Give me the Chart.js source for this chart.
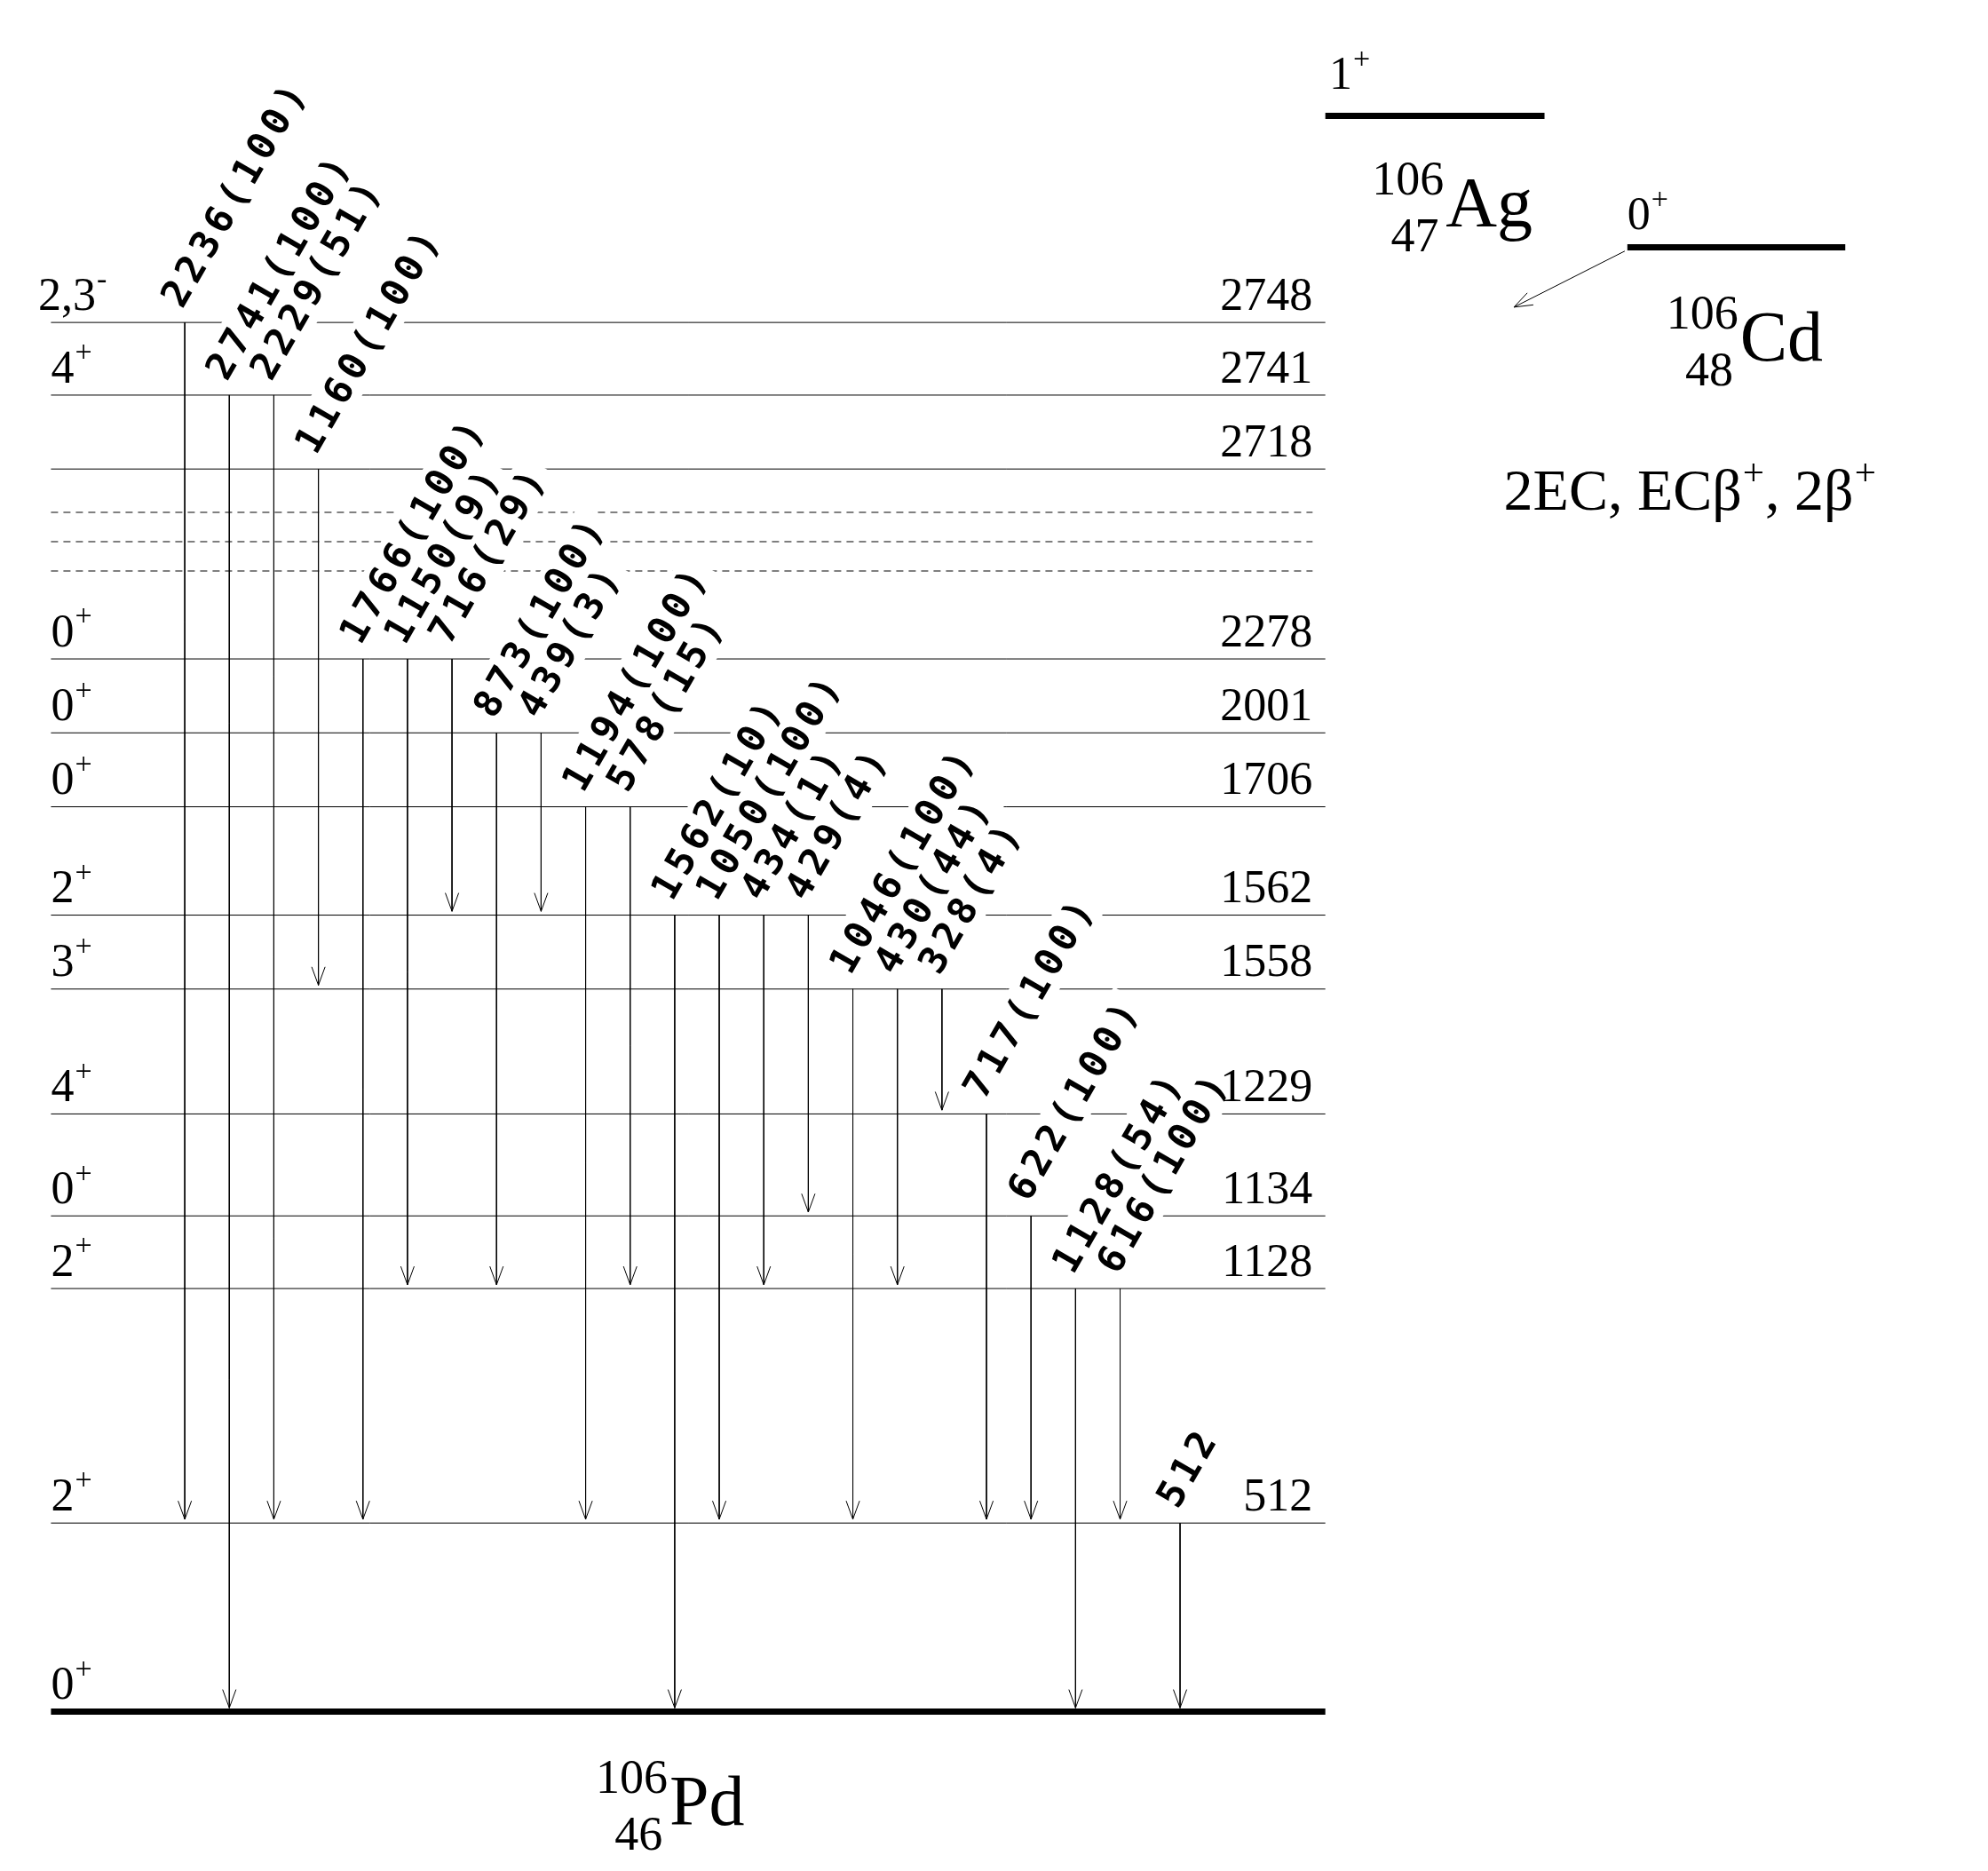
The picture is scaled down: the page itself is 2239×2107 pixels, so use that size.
<!DOCTYPE html>
<html>
<head>
<meta charset="utf-8">
<script src="https://cdn.jsdelivr.net/npm/chart.js@4.4.1/dist/chart.umd.min.js"></script>
<style>
  html, body { margin: 0; padding: 0; background: #fff; }
</style>
</head>
<body>
<canvas id="c" width="2239" height="2107"></canvas>
<script>
// Levels of 106Pd (energy in keV) and their vertical slot in the drawing
const levelEnergy = [2748, 2741, 2718, 2278, 2001, 1706, 1562, 1558, 1229, 1134, 1128, 512, 0];
const levelSpin   = ['2,3-', '4+', '', '0+', '0+', '0+', '2+', '3+', '4+', '0+', '2+', '2+', '0+'];
const levelSlot   = [253, 310, 368, 517, 575, 633, 718, 776, 874, 954, 1011, 1195, 1343];
const dashedSlot  = [402, 425, 448];

// Gamma transitions: energy, relative intensity, initial and final level energies
const gammaEnergy = [2236, 2741, 2229, 1160, 1766, 1150, 716, 873, 439, 1194, 578, 1562, 1050, 434, 429, 1046, 430, 328, 717, 622, 1128, 616, 512];
const gammaInt    = ['100', '100', '51', '100', '100', '9', '29', '100', '3', '100', '15', '10', '100', '1', '4', '100', '44', '4', '100', '100', '54', '100', null];
const gammaFrom   = [2748, 2741, 2741, 2718, 2278, 2278, 2278, 2001, 2001, 1706, 1706, 1562, 1562, 1562, 1562, 1558, 1558, 1558, 1229, 1134, 1128, 1128, 512];
const gammaTo     = [512, 0, 512, 1558, 512, 1128, 1562, 1128, 1562, 512, 1128, 0, 512, 1128, 1134, 512, 1128, 1229, 512, 512, 0, 512, 0];

const slotOf = e => levelSlot[levelEnergy.indexOf(e)];
const colX = i => (i < 22 ? 145 + i * 34.95 : 926);

const datasets = [];
levelEnergy.forEach((e, i) => {
  datasets.push({
    data: [{ x: 40, y: levelSlot[i] }, { x: 1040, y: levelSlot[i] }],
    borderColor: '#000', borderWidth: e === 0 ? 7 : 1, pointRadius: 0
  });
});
dashedSlot.forEach(y => datasets.push({
  data: [{ x: 40, y }, { x: 1030, y }],
  borderColor: '#000', borderWidth: 1, borderDash: [8, 6], pointRadius: 0
}));
gammaEnergy.forEach((g, i) => datasets.push({
  data: [{ x: colX(i), y: slotOf(gammaFrom[i]) }, { x: colX(i), y: slotOf(gammaTo[i]) - 3 }],
  borderColor: '#000', borderWidth: 1, pointRadius: 0, isGamma: true
}));
// parent levels and decay arrow
datasets.push({ data: [{ x: 1040, y: 91 }, { x: 1212, y: 91 }], borderColor: '#000', borderWidth: 7, pointRadius: 0 });
datasets.push({ data: [{ x: 1277, y: 194 }, { x: 1448, y: 194 }], borderColor: '#000', borderWidth: 7, pointRadius: 0 });
datasets.push({ data: [{ x: 1275, y: 197 }, { x: 1188, y: 241 }], borderColor: '#000', borderWidth: 1, pointRadius: 0, isGamma: true });

const S = 2239 / 1560;

function spinText(ctx, x, y, s, size) {
  // s like '4+' or '2,3-' : last char is the parity superscript
  if (!s) return;
  const base = s.slice(0, -1), sup = s.slice(-1);
  ctx.font = size + 'px "Liberation Serif"';
  ctx.fillText(base, x, y);
  const w = ctx.measureText(base).width;
  ctx.font = Math.round(size * 0.65) + 'px "Liberation Serif"';
  ctx.fillText(sup === '-' ? '-' : '+', x + w + 1, y - size * 0.45);
}

function nucleus(ctx, x, y, A, Z, sym, size) {
  ctx.font = Math.round(size * 0.68) + 'px "Liberation Serif"';
  ctx.textAlign = 'right';
  ctx.fillText(A, x, y - size * 0.45);
  ctx.fillText(Z, x - 4 * S, y + size * 0.35);
  ctx.textAlign = 'left';
  ctx.font = size + 'px "Liberation Serif"';
  ctx.fillText(sym, x + 2, y);
}

const textPlugin = {
  id: 'scheme',
  afterDatasetsDraw(chart) {
    const { ctx, scales } = chart;
    const X = v => scales.x.getPixelForValue(v), Y = v => scales.y.getPixelForValue(v);
    ctx.save();
    ctx.strokeStyle = '#000'; ctx.fillStyle = '#000'; ctx.lineWidth = 1;
    // open arrowheads
    chart.data.datasets.forEach(ds => {
      if (!ds.isGamma) return;
      const [a, b] = ds.data;
      const x1 = X(a.x), y1 = Y(a.y), x2 = X(b.x), y2 = Y(b.y);
      const ang = Math.atan2(y2 - y1, x2 - x1), L = 22, h = 0.35;
      ctx.beginPath();
      ctx.moveTo(x2 - L * Math.cos(ang - h), y2 - L * Math.sin(ang - h));
      ctx.lineTo(x2, y2);
      ctx.lineTo(x2 - L * Math.cos(ang + h), y2 - L * Math.sin(ang + h));
      ctx.stroke();
    });
    // gamma labels, rotated with a white backing
    const fs = Math.round(30 * S);
    ctx.font = '600 ' + fs + 'px "DejaVu Sans Mono"';
    ctx.letterSpacing = Math.round(4 * S) + 'px';
    gammaEnergy.forEach((g, i) => {
      const t = gammaInt[i] ? g + '(' + gammaInt[i] + ')' : String(g);
      const x = X(colX(i) - 2), y = Y(slotOf(gammaFrom[i]) - 10);
      ctx.save();
      ctx.translate(x, y);
      ctx.rotate(-60 * Math.PI / 180);
      const w = ctx.measureText(t).width;
      ctx.fillStyle = '#fff';
      ctx.fillRect(-4, -fs * 0.9, w + 8, fs * 1.15);
      ctx.fillStyle = '#000';
      ctx.fillText(t, 0, 0);
      ctx.restore();
    });
    ctx.letterSpacing = '0px';
    // level energies and spins
    const ls = Math.round(36 * S);
    levelEnergy.forEach((e, i) => {
      const y = Y(levelSlot[i] - 10);
      if (e !== 0) {
        ctx.font = ls + 'px "Liberation Serif"';
        ctx.textAlign = 'right';
        ctx.fillText(String(e), X(1030), y);
        ctx.textAlign = 'left';
      }
      spinText(ctx, X(i === 0 ? 30 : 40), y, levelSpin[i], ls);
    });
    // parents and daughter
    spinText(ctx, X(1043), Y(70), '1+', ls);
    spinText(ctx, X(1277), Y(180), '0+', ls);
    nucleus(ctx, X(1133), Y(178), '106', '47', 'Ag', Math.round(56 * S));
    nucleus(ctx, X(1364), Y(283), '106', '48', 'Cd', Math.round(56 * S));
    nucleus(ctx, X(524), Y(1432), '106', '46', 'Pd', Math.round(56 * S));
    // decay modes
    const ms = Math.round(46 * S), mss = Math.round(30 * S);
    let x = X(1180); const y = Y(400);
    [['2EC, EC\u03b2', '+'], [', 2\u03b2', '+']].forEach(([b, s]) => {
      ctx.font = ms + 'px "Liberation Serif"'; ctx.fillText(b, x, y); x += ctx.measureText(b).width;
      ctx.font = mss + 'px "Liberation Serif"'; ctx.fillText(s, x + 1, y - ms * 0.42); x += ctx.measureText(s).width + 2;
    });
    ctx.restore();
  }
};

new Chart(document.getElementById('c'), {
  type: 'line',
  data: { datasets },
  options: {
    responsive: false, animation: false, devicePixelRatio: 1,
    layout: { padding: 0 },
    plugins: { legend: { display: false }, tooltip: { enabled: false } },
    scales: {
      x: { type: 'linear', min: 0, max: 1560, display: false },
      y: { type: 'linear', min: 0, max: 1468, reverse: true, display: false }
    }
  },
  plugins: [textPlugin]
});
</script>
</body>
</html>
